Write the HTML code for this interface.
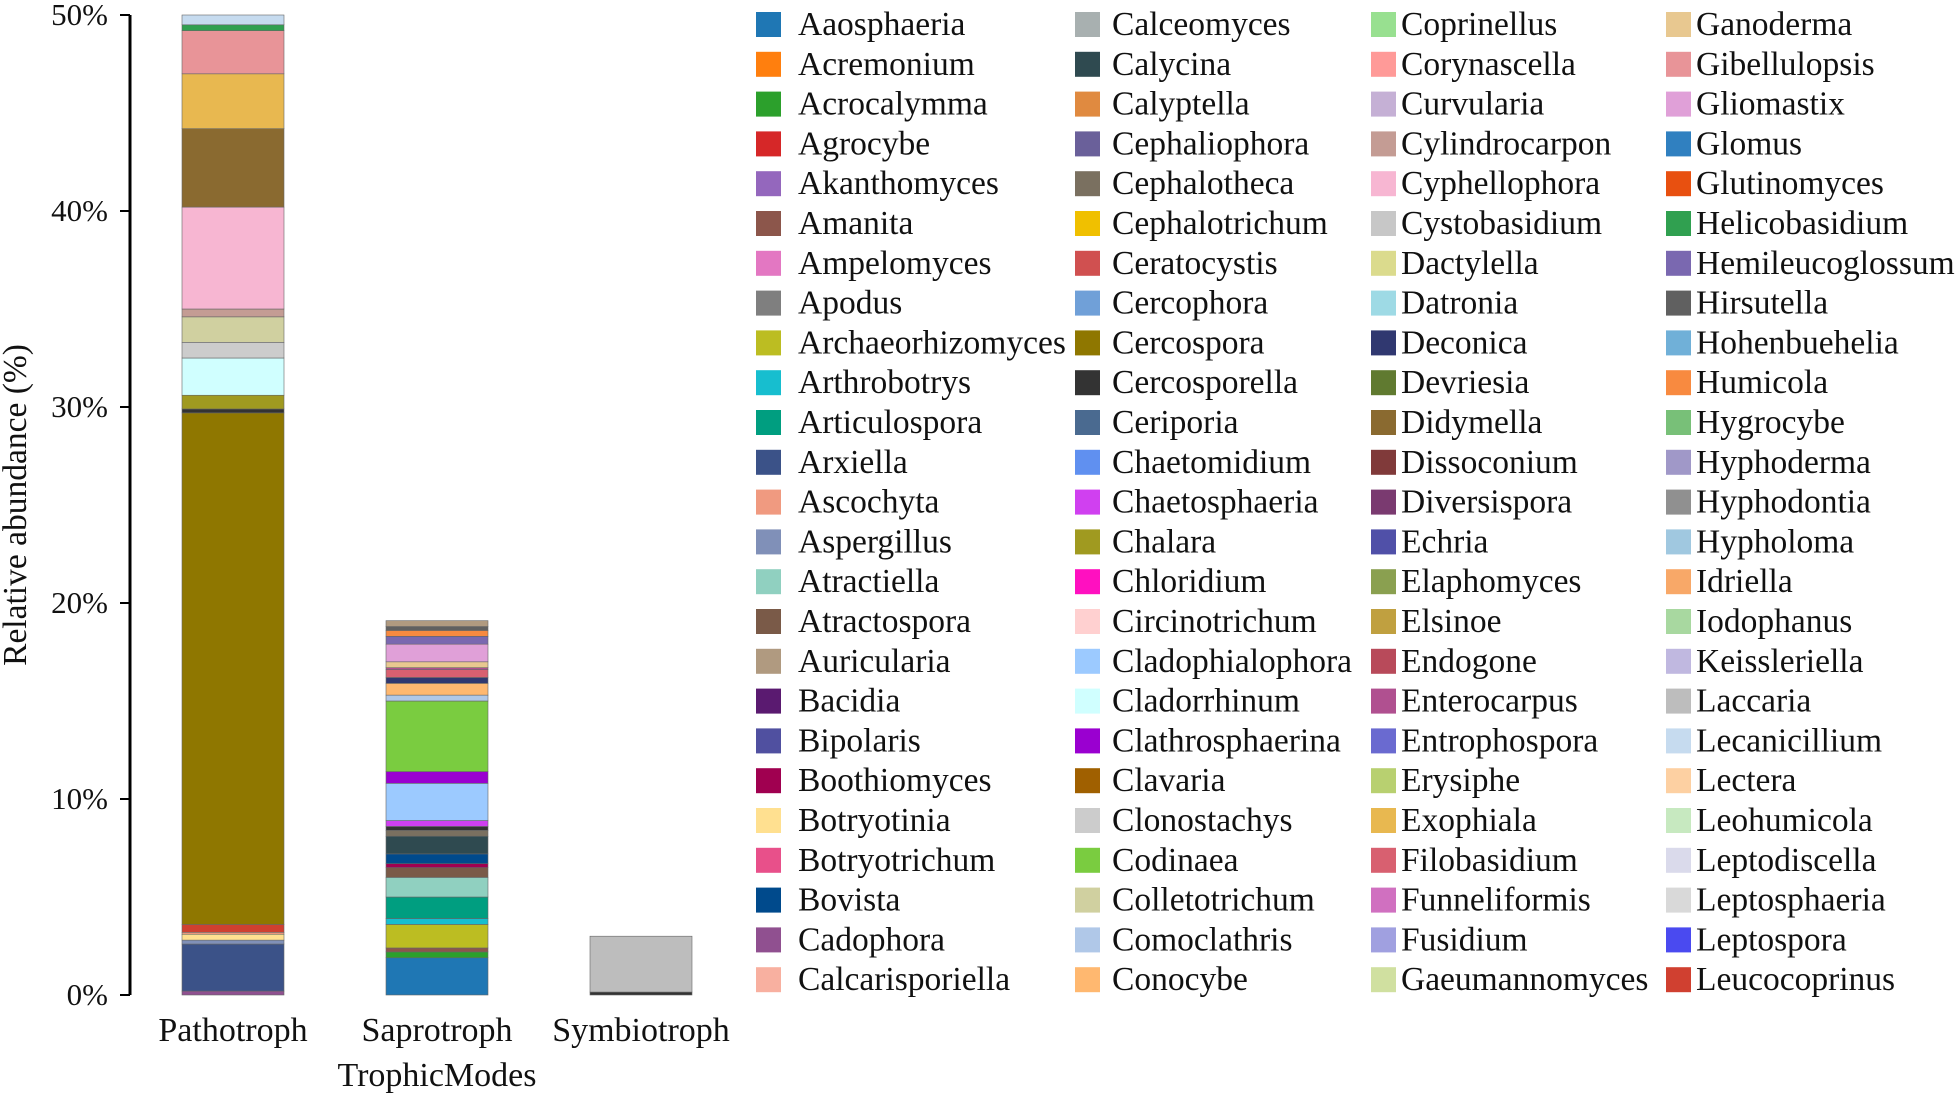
<!DOCTYPE html>
<html><head><meta charset="utf-8"><style>
body{margin:0;background:#fff;}
svg text{font-family:"Liberation Serif",serif;fill:#111;}
</style></head><body>
<svg id="chart" width="1960" height="1095" viewBox="0 0 1960 1095" xmlns="http://www.w3.org/2000/svg">
<g id="axis"></g>
<g id="bars"></g>
<g id="legend"></g>
<text transform="translate(26,505) rotate(-90)" text-anchor="middle" font-size="33.5">Relative abundance (%)</text>
<text x="437" y="1086" text-anchor="middle" font-size="34">TrophicModes</text>
</svg>
<script>
const genera=["Aaosphaeria","Acremonium","Acrocalymma","Agrocybe","Akanthomyces","Amanita","Ampelomyces","Apodus","Archaeorhizomyces","Arthrobotrys","Articulospora","Arxiella","Ascochyta","Aspergillus","Atractiella","Atractospora","Auricularia","Bacidia","Bipolaris","Boothiomyces","Botryotinia","Botryotrichum","Bovista","Cadophora","Calcarisporiella",
"Calceomyces","Calycina","Calyptella","Cephaliophora","Cephalotheca","Cephalotrichum","Ceratocystis","Cercophora","Cercospora","Cercosporella","Ceriporia","Chaetomidium","Chaetosphaeria","Chalara","Chloridium","Circinotrichum","Cladophialophora","Cladorrhinum","Clathrosphaerina","Clavaria","Clonostachys","Codinaea","Colletotrichum","Comoclathris","Conocybe",
"Coprinellus","Corynascella","Curvularia","Cylindrocarpon","Cyphellophora","Cystobasidium","Dactylella","Datronia","Deconica","Devriesia","Didymella","Dissoconium","Diversispora","Echria","Elaphomyces","Elsinoe","Endogone","Enterocarpus","Entrophospora","Erysiphe","Exophiala","Filobasidium","Funneliformis","Fusidium","Gaeumannomyces",
"Ganoderma","Gibellulopsis","Gliomastix","Glomus","Glutinomyces","Helicobasidium","Hemileucoglossum","Hirsutella","Hohenbuehelia","Humicola","Hygrocybe","Hyphoderma","Hyphodontia","Hypholoma","Idriella","Iodophanus","Keissleriella","Laccaria","Lecanicillium","Lectera","Leohumicola","Leptodiscella","Leptosphaeria","Leptospora","Leucocoprinus"];
const colors=["#1f77b4","#ff7f0e","#2ca02c","#d62728","#9467bd","#8c564b","#e377c2","#7f7f7f","#bcbd22","#17becf","#009e80","#3b5288","#f09a80","#8090b8","#90d0c0","#7a5a48","#b09a80","#5a1a70","#5050a0","#a00050","#ffe090","#e8508a","#004a8c","#905090","#f8b0a0",
"#a8b0b0","#2f4a50","#e08a40","#6a609a","#7a7060","#f0c000","#d05050","#70a0d8","#8f7700","#333333","#4a6a90","#6090f0","#d040f0","#a09a20","#ff10c0","#ffd0d0","#9ccaff","#d0ffff","#9a00d0","#a06000","#cccccc","#7acc40","#d0d0a0","#b0c8e8","#ffb870",
"#98e090","#ff9a98","#c5b0d5","#c49c94","#f7b6d2","#c7c7c7","#dbdb8d","#9edae5","#303870","#607a30","#8a6a30","#803a3a","#7a3a70","#5050a8","#8aa050","#c0a040","#b84a5a","#b05090","#6a6ad0","#b8d070","#e8b850","#d86070","#d070c0","#a0a0e0","#d0e0a0",
"#e8c890","#e89498","#e0a0d8","#3080c0","#e85010","#30a050","#7a68b0","#606060","#70b0d8","#f88a40","#78c078","#a098c8","#909090","#a0c8e0","#f8a868","#a8d8a0","#c0b8e0","#bdbdbd","#c6dbef","#fdd0a2","#c7e9c0","#dadaeb","#d9d9d9","#4a4af0","#d04030"];
const categories=["Pathotroph","Saprotroph","Symbiotroph"];
const pathoGenera=["Cadophora","Arxiella","Aspergillus","Botryotinia","Ascochyta","Leucocoprinus","Cercospora","Cercosporella","Chalara","Cladorrhinum","Clonostachys","Colletotrichum","Cylindrocarpon","Cyphellophora","Didymella","Exophiala","Gibellulopsis","Helicobasidium","Lecanicillium"];
const pathoValues=[0.2,2.4,0.2,0.3,0.1,0.4,26.1,0.2,0.7,1.9,0.8,1.3,0.4,5.2,4.0,2.8,2.2,0.3,0.5];
const saproGenera=["Aaosphaeria","Acrocalymma","Amanita","Archaeorhizomyces","Arthrobotrys","Articulospora","Atractiella","Atractospora","Boothiomyces","Bovista","Calycina","Cephalotheca","Cercosporella","Chaetosphaeria","Cladophialophora","Clathrosphaerina","Codinaea","Comoclathris","Conocybe","Deconica","Filobasidium","Enterocarpus","Ganoderma","Gliomastix","Hemileucoglossum","Humicola","Hirsutella","Auricularia"];
const saproValues=[1.9,0.3,0.2,1.2,0.3,1.1,1.0,0.5,0.2,0.5,0.9,0.3,0.2,0.3,1.9,0.6,3.6,0.3,0.6,0.3,0.4,0.1,0.3,0.9,0.4,0.3,0.2,0.3];
const symbioGenera=["Cercosporella","Laccaria"];
const symbioValues=[0.15,2.85];
const yTicks=[0,10,20,30,40,50];
const yTickLabels=["0%","10%","20%","30%","40%","50%"];

const NS="http://www.w3.org/2000/svg";
const y0=995,y50=15;
const yScale=v=>y0-(v/50)*(y0-y50);
const barX=[182,386,590],barW=102;
function mk(tag,attrs,parent){const e=document.createElementNS(NS,tag);for(const k in attrs)e.setAttribute(k,attrs[k]);parent.appendChild(e);return e;}
const axis=document.getElementById('axis');
const ax=mk('line',{x1:130,x2:130,y1:y50,y2:y0,stroke:'#000','stroke-width':3},axis);


yTicks.forEach((t,i)=>{
  const y=yScale(t);
  const tk=mk('line',{x1:120,x2:130,y1:y,y2:y,stroke:'#000','stroke-width':2},axis);
  
  
  const tx=mk('text',{x:108,y:y+10,'text-anchor':'end','font-size':31},axis);
  tx.textContent=yTickLabels[i];
  
  
});
const bars=document.getElementById('bars');
const series=[[pathoGenera,pathoValues],[saproGenera,saproValues],[symbioGenera,symbioValues]];
series.forEach((s,ci)=>{
  let cum=0;
  s[0].forEach((g,j)=>{
    const v=s[1][j];
    const yt=yScale(cum+v),yb=yScale(cum);
    const r=mk('rect',{x:barX[ci],y:yt,width:barW,height:yb-yt,fill:colors[genera.indexOf(g)],stroke:'#666','stroke-width':0.6},bars);
    
    
    cum+=v;
  });
  const lab=mk('text',{x:barX[ci]+barW/2,y:1041,'text-anchor':'middle','font-size':34},bars);
  lab.textContent=categories[ci];
  
  
});
const legend=document.getElementById('legend');
const colX=[756,1075,1371,1666];
const textX=[798,1112,1401,1696];
genera.forEach((g,i)=>{
  const c=Math.floor(i/25),r=i%25;
  const y=24+r*39.8;
  const grp=mk('g',{},legend);
  
  
  mk('rect',{x:colX[c],y:y-12,width:25,height:25,fill:colors[i]},grp);
  const t=mk('text',{x:textX[c],y:y+11,'font-size':33.5},grp);
  t.textContent=g;
});
</script>
</body></html>
